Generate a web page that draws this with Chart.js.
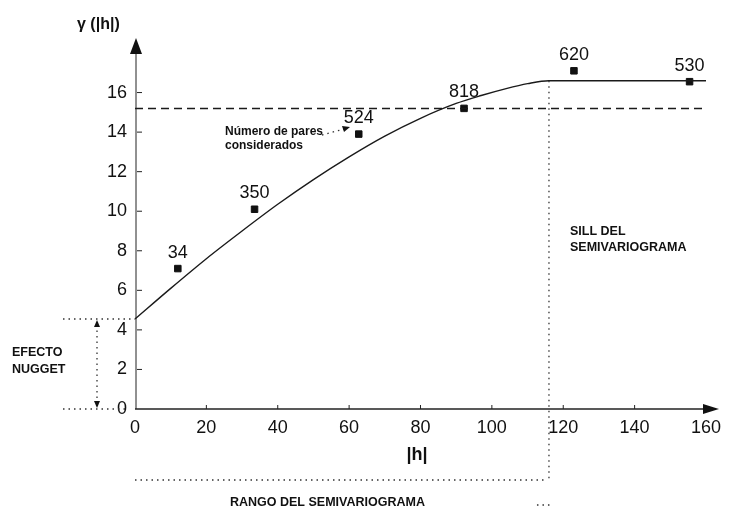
<!DOCTYPE html>
<html>
<head>
<meta charset="utf-8">
<script src="https://cdn.jsdelivr.net/npm/chart.js@4/dist/chart.umd.min.js"></script>
<style>
  html, body { margin: 0; padding: 0; background: #fff; }
  canvas { display: block; }
</style>
</head>
<body>
<canvas id="chart" width="729" height="511"></canvas>
<script>
// experimental semivariogram: lag |h|, gamma, and number of pairs per lag
var lagH    = [12, 33.5, 62.7, 92.2, 123, 155.4];
var gammaH  = [7.1, 10.1, 13.9, 15.2, 17.1, 16.55];
var nPairs  = [34, 350, 524, 818, 620, 530];

// fitted model curve
var modelH = [0, 10, 20, 30, 40, 50, 60, 70, 80, 90, 97, 104, 110, 116, 130, 145, 160];
var modelG = [4.55, 6.1, 7.6, 9.0, 10.35, 11.6, 12.75, 13.8, 14.7, 15.45, 15.85, 16.2, 16.45, 16.6, 16.6, 16.6, 16.6];

// reference levels
var sillLevel   = 15.2;
var sillEnd     = 159;
var nuggetValue = 4.55;
var rangeValue  = 116;
var modelTop    = 16.6;

var xTicks = { min: 0, max: 160, step: 20 };
var yTicks = { min: 0, max: 18, step: 2, lastLabel: 16 };

var FONT = '"Liberation Sans", Arial, Helvetica, sans-serif';

function toXY(xs, ys) {
    return xs.map(function (x, i) { return { x: x, y: ys[i] }; });
}

function dotted(ctx, x1, y1, x2, y2) {
    ctx.save();
    ctx.strokeStyle = '#333';
    ctx.lineWidth = 1.3;
    ctx.setLineDash([1.5, 4]);
    ctx.beginPath();
    ctx.moveTo(x1, y1);
    ctx.lineTo(x2, y2);
    ctx.stroke();
    ctx.restore();
}

function triangle(ctx, pts) {
    ctx.beginPath();
    ctx.moveTo(pts[0], pts[1]);
    ctx.lineTo(pts[2], pts[3]);
    ctx.lineTo(pts[4], pts[5]);
    ctx.closePath();
    ctx.fill();
}

function text(ctx, str, x, y, font, align) {
    ctx.font = font;
    ctx.textAlign = align || 'left';
    ctx.textBaseline = 'middle';
    ctx.fillText(str, x, y);
}

// axes with arrows, inner tick marks, annotations and texts
var decorations = {
    id: 'decorations',
    afterDatasetsDraw: function (chart) {
        var ctx = chart.ctx;
        var xs = chart.scales.x, ys = chart.scales.y;
        var px = function (v) { return xs.getPixelForValue(v); };
        var py = function (v) { return ys.getPixelForValue(v); };
        var x0 = px(0), y0 = py(0);

        ctx.save();
        ctx.fillStyle = '#111';
        ctx.strokeStyle = '#222';

        // y axis
        ctx.lineWidth = 1;
        ctx.beginPath();
        ctx.moveTo(x0 + 1, y0);
        ctx.lineTo(x0 + 1, chart.chartArea.top);
        ctx.stroke();
        triangle(ctx, [x0 + 1, chart.chartArea.top - 15, x0 - 5, chart.chartArea.top + 1, x0 + 7, chart.chartArea.top + 1]);
        for (var g = yTicks.step; g <= yTicks.lastLabel; g += yTicks.step) {
            ctx.beginPath();
            ctx.moveTo(x0 + 2, py(g));
            ctx.lineTo(x0 + 7, py(g));
            ctx.stroke();
        }

        // x axis
        ctx.lineWidth = 1.5;
        ctx.beginPath();
        ctx.moveTo(x0, y0);
        ctx.lineTo(chart.chartArea.right - 2, y0);
        ctx.stroke();
        triangle(ctx, [chart.chartArea.right + 13, y0, chart.chartArea.right - 3, y0 - 5, chart.chartArea.right - 3, y0 + 5]);
        ctx.lineWidth = 1;
        for (var h = xTicks.step; h < xTicks.max; h += xTicks.step) {
            ctx.beginPath();
            ctx.moveTo(px(h), y0);
            ctx.lineTo(px(h), y0 - 4);
            ctx.stroke();
        }

        // nugget effect
        var yn = py(nuggetValue);
        dotted(ctx, x0 - 72, yn, x0, yn);
        dotted(ctx, x0 - 72, y0, x0 - 6, y0);
        dotted(ctx, x0 - 38, yn + 6, x0 - 38, y0 - 6);
        triangle(ctx, [x0 - 38, yn + 1, x0 - 41, yn + 8, x0 - 35, yn + 8]);
        triangle(ctx, [x0 - 38, y0 - 1, x0 - 41, y0 - 8, x0 - 35, y0 - 8]);

        // range
        var xr = px(rangeValue);
        var yRange = y0 + 71;
        dotted(ctx, xr, py(modelTop), xr, yRange + 2);
        dotted(ctx, x0, yRange, xr - 3, yRange);
        dotted(ctx, xr - 12, y0 + 96, xr + 3, y0 + 96);

        // pointer to the pair counts
        dotted(ctx, 322, 135, 344, 129);
        triangle(ctx, [350, 127, 342, 126, 344, 132]);

        // texts
        var bold = 'bold 12.5px ' + FONT;
        text(ctx, 'EFECTO', 12, 353, bold);
        text(ctx, 'NUGGET', 12, 370, bold);
        text(ctx, 'SILL DEL', 570, 232, bold);
        text(ctx, 'SEMIVARIOGRAMA', 570, 248, bold);
        text(ctx, 'RANGO DEL SEMIVARIOGRAMA', 230, 503, bold);
        text(ctx, 'Número de pares', 225, 132, 'bold 12px ' + FONT);
        text(ctx, 'considerados', 225, 146, 'bold 12px ' + FONT);
        text(ctx, '|h|', px(79), y0 + 46, 'bold 18px ' + FONT, 'center');
        text(ctx, 'γ (|h|)', 77, 25, 'bold 16px ' + FONT);

        // pair counts over the experimental points
        var meta = chart.getDatasetMeta(2);
        meta.data.forEach(function (pt, i) {
            text(ctx, String(nPairs[i]), pt.x, pt.y - 16, '18px ' + FONT, 'center');
        });
        ctx.restore();
    }
};

new Chart(document.getElementById('chart').getContext('2d'), {
    type: 'scatter',
    data: {
        datasets: [{
            label: 'modelo',
            data: toXY(modelH, modelG),
            showLine: true,
            cubicInterpolationMode: 'monotone',
            borderColor: '#1a1a1a',
            borderWidth: 1.4,
            pointRadius: 0
        }, {
            label: 'meseta',
            data: [{ x: 0, y: sillLevel }, { x: sillEnd, y: sillLevel }],
            showLine: true,
            borderColor: '#1a1a1a',
            borderWidth: 1.5,
            borderDash: [8, 5],
            pointRadius: 0
        }, {
            label: 'experimental',
            data: toXY(lagH, gammaH),
            pointStyle: 'rect',
            pointRadius: 4.6,
            backgroundColor: '#111',
            borderColor: '#111',
            borderWidth: 1
        }]
    },
    options: {
        responsive: false,
        animation: false,
        layout: { padding: { left: 0, top: 53, right: 14, bottom: 0 } },
        plugins: {
            legend: { display: false },
            tooltip: { enabled: false }
        },
        scales: {
            x: {
                type: 'linear',
                min: xTicks.min,
                max: xTicks.max,
                grid: { display: false, drawTicks: false },
                border: { display: false },
                ticks: {
                    stepSize: xTicks.step,
                    padding: 8,
                    color: '#111',
                    font: { family: FONT, size: 18 }
                },
                afterFit: function (s) { s.height = 102; }
            },
            y: {
                min: yTicks.min,
                max: yTicks.max,
                grid: { display: false, drawTicks: false },
                border: { display: false },
                ticks: {
                    stepSize: yTicks.step,
                    padding: 8,
                    color: '#111',
                    font: { family: FONT, size: 18 },
                    callback: function (v) { return v <= yTicks.lastLabel ? v : ''; }
                },
                afterFit: function (s) { s.width = 135; }
            }
        }
    },
    plugins: [decorations]
});
</script>
</body>
</html>
